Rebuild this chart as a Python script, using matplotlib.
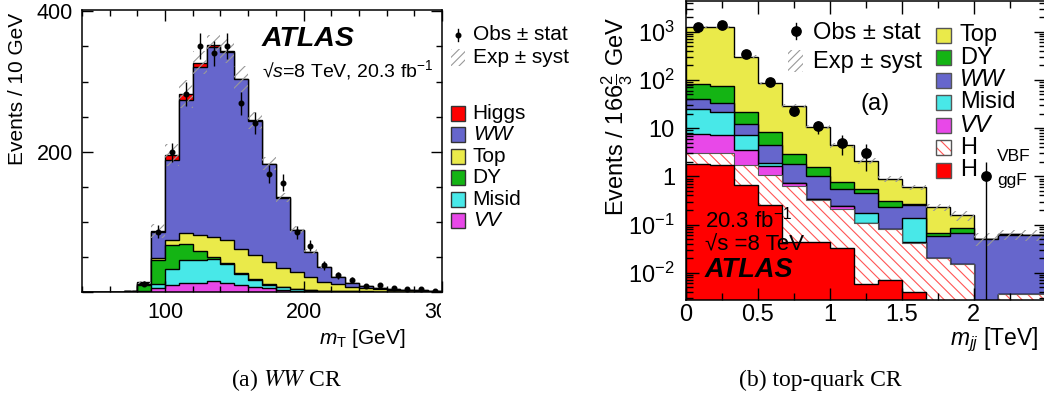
import numpy as np
import matplotlib
matplotlib.use("Agg")
import matplotlib.pyplot as plt
from matplotlib.patches import Rectangle
from matplotlib.lines import Line2D
from matplotlib.ticker import (MultipleLocator, FixedLocator, LogLocator,
                               FuncFormatter, NullFormatter)

plt.rcParams['font.family'] = ['Liberation Sans', 'DejaVu Sans']
plt.rcParams['mathtext.fontset'] = 'custom'
plt.rcParams['mathtext.rm'] = 'Liberation Sans'
plt.rcParams['mathtext.it'] = 'Liberation Sans:italic'
plt.rcParams['mathtext.bf'] = 'Liberation Sans:bold'
plt.rcParams['hatch.linewidth'] = 0.8

W, H = 1044, 397

C_HIGGS = '#ff0000'
C_WW = '#6666cc'
C_TOP = '#eaea4a'
C_DY = '#14b414'
C_MISID = '#48e8e8'
C_VV = '#e848e8'

# ---- (a) WW CR, mT in 10 GeV bins from 40 to 300 GeV
mt_edges = np.arange(40, 301, 10)
mt_vv = [0, 0, 0.1, 0.3, 0.5, 5.2, 10.5, 13.5, 13.5, 15, 13.5, 9.5, 6.5, 5, 3, 2,
         1.2, 0.8, 0.6, 0.4, 0.3, 0.2, 0.15, 0.1, 0.1, 0.05]
mt_misid = [0, 0, 0, 0.2, 0.7, 6.7, 22.5, 32.5, 32.5, 32.5, 26.5, 16, 10.5, 5.5, 3.5, 2,
            1.3, 0.8, 0.5, 0.4, 0.3, 0.2, 0.15, 0.1, 0.05, 0.05]
mt_dy = [0, 0, 0.1, 0.7, 8.8, 33.1, 33.5, 23, 13, 2.5, 1.5, 1.5, 1, 1, 1, 0.8,
         0.5, 0.4, 0.3, 0.2, 0.2, 0.2, 0.15, 0.1, 0.05, 0.05]
mt_top = [0, 0, 0.1, 0.4, 1, 3, 8, 15, 22, 29, 32.5, 35, 35, 31, 26.5, 23.2,
          18, 12.7, 9.6, 6.6, 4.7, 3.4, 2.55, 1.9, 1.3, 0.85]
mt_ww = [0, 0, 0.1, 0.4, 2.5, 38, 113.5, 190, 240, 270, 268, 241, 191, 139.9, 100.4, 60.4,
         36.5, 21.4, 11, 5.9, 3, 2, 1.4, 1, 0.8, 0.6]
mt_higgs = [0, 0, 0, 0, 0.3, 1, 7, 8, 6, 3, 1.5, 1, 0.8, 0.6, 0.4, 0.2,
            0.1, 0.1, 0, 0, 0, 0, 0, 0, 0, 0]
mt_obs = [0, 0, 0, 0, 12, 86, 199, 282, 351, 340, 351, 269, 241, 168, 156, 85,
          66, 38, 24, 17, 9, 10, 5, 4, 4, 2]
mt_syst = [0.1, 0.1, 0.1, 0.15, 0.15, 0.12, 0.08, 0.07, 0.05, 0.04, 0.05, 0.06, 0.05, 0.05,
           0.05, 0.06, 0.06, 0.06, 0.06, 0.06, 0.06, 0.06, 0.06, 0.06, 0.06, 0.06]

# ---- (b) top-quark CR, mjj in 1/6 TeV bins
mjj_edges = np.arange(16) / 6.0
mjj_ggf = [1.83, 1.74, 0.65, 0.26, 0.044, 0.044, 0.033, 0.0057, 0.007, 0.004,
           1e-4, 1e-4, 1e-4, 1e-4, 1e-4]
mjj_vbf = [1.21, 1.26, 1.09, 0.82, 0.576, 0.286, 0.177, 0.102, 0.072, 0.038,
           0.0199, 0.0148, 1e-4, 0.0035, 0.0035]
mjj_vv = [4.46, 4.3, 1.71, 0.53, 0.11, 0.01, 0.03, 0.001, 5e-4, 5e-4,
          1e-4, 1e-4, 1e-5, 1e-5, 1e-5]
mjj_misid = [17.2, 14.1, 3.85, 0.28, 0.01, 0.005, 0.003, 0.065, 5e-4, 0.0945,
             1e-4, 1e-4, 1e-5, 1e-5, 1e-5]
mjj_ww = [15.1, 11.5, 5.0, 2.49, 1.09, 0.685, 0.304, 0.276, 0.152, 0.113,
          0.0368, 0.0519, 0.0498, 0.0584, 0.0564]
mjj_dy = [42.8, 43.1, 9.8, 3.88, 1.11, 0.5, 0.203, 0.106, 0.082, 0.018,
          0.01, 0.017, 1e-4, 1e-4, 1e-4]
mjj_top = [1147, 1194, 281, 76.7, 26.1, 9.0, 3.65, 1.54, 0.576, 0.332,
           0.163, 0.071, 1e-4, 1e-4, 1e-4]
mjj_obs = [1270, 1370, 345, 92, 23, 11, 5, 3, 0, 0, 0, 0, 1, 0, 0]
mjj_syst = [0.05, 0.05, 0.06, 0.07, 0.08, 0.1, 0.12, 0.15, 0.15, 0.12,
            0.18, 0.22, 0.3, 0.25, 0.25]


def px(x, y):
    return x / W, 1 - y / H


def draw_stack(ax, edges, layers, base):
    cum = []
    total = np.zeros(len(edges) - 1)
    for vals, color, hatch in layers:
        total = total + np.asarray(vals, dtype=float)
        cum.append((total.copy(), color, hatch))
    for top, color, hatch in reversed(cum):
        if hatch:
            ax.stairs(top, edges, baseline=base, fill=True, facecolor='white',
                      edgecolor=color, hatch=hatch, lw=0)
            ax.stairs(top, edges, baseline=base, fill=False, color='#555555', lw=0.8)
        else:
            ax.stairs(top, edges, baseline=base, fill=True, facecolor=color,
                      edgecolor='black', lw=1)
    return total


def draw_data(ax, edges, obs, ms, log=False):
    n = np.asarray(obs, dtype=float)
    c = 0.5 * (edges[1:] + edges[:-1])
    m = n > 0
    err = np.sqrt(n[m])
    lo = np.minimum(err, n[m] - 1e-6) if log else err
    ax.errorbar(c[m], n[m], yerr=[lo, err], fmt='o', color='black', ms=ms,
                elinewidth=1, capsize=0, zorder=10)


fig = plt.figure(figsize=(W / 100, H / 100), dpi=100)

# ================= left panel
axL = fig.add_axes([82 / W, (H - 292) / H, 360 / W, 282 / H])
tot = draw_stack(axL, mt_edges, [(mt_vv, C_VV, None), (mt_misid, C_MISID, None),
                                 (mt_dy, C_DY, None), (mt_top, C_TOP, None),
                                 (mt_ww, C_WW, None), (mt_higgs, C_HIGGS, None)], 0)
s = np.asarray(mt_syst)
axL.stairs(tot * (1 + s), mt_edges, baseline=tot * (1 - s), fill=True, facecolor='none',
           edgecolor='#999999', hatch='///', lw=0)
draw_data(axL, mt_edges, mt_obs, 3.3)

axL.set_xlim(40, 300)
axL.set_ylim(0, 402)
axL.xaxis.set_major_locator(FixedLocator([100, 200, 300]))
axL.xaxis.set_minor_locator(MultipleLocator(20))
axL.yaxis.set_major_locator(FixedLocator([0, 200, 400]))
axL.yaxis.set_major_formatter(FuncFormatter(lambda v, p: '' if v == 0 else '%d' % v))
axL.yaxis.set_minor_locator(MultipleLocator(50))
axL.tick_params(which='both', direction='in', top=True, right=True, width=1, labelsize=15.5)
axL.tick_params(which='major', length=8)
axL.tick_params(which='minor', length=4.5)
axL.tick_params(axis='x', pad=7)
axL.tick_params(axis='y', pad=6.5)
for sp in axL.spines.values():
    sp.set_linewidth(1.1)

fig.text(*px(17.5, 13), 'Events / 10 GeV', rotation=90, ha='center', va='top', size=15)
fig.text(*px(405, 338), r'$m_{\mathrm{T}}$ [GeV]', ha='right', va='center', size=15)
fig.text(*px(261.7, 39), 'ATLAS', weight='bold', style='italic', ha='left', va='center', size=20.5)
fig.text(*px(261.7, 70), '√$s$=8 TeV, 20.3 fb$^{-1}$', ha='left', va='center', size=14)

# crop of the "300" label like the original subfigure
fig.add_artist(Rectangle(px(441, 330), 150 / W, 36 / H, transform=fig.transFigure,
                         facecolor='white', edgecolor='none', zorder=5))

# left legend
fig.add_artist(Line2D([458.3 / W] * 2, [1 - 29 / H, 1 - 41 / H], transform=fig.transFigure,
                      color='black', lw=1))
fig.add_artist(Line2D([458.3 / W], [1 - 35 / H], transform=fig.transFigure, color='black',
                      marker='o', ms=3.3, lw=0))
fig.add_artist(Rectangle(px(451, 66), 14 / W, 17 / H, transform=fig.transFigure,
                         facecolor='none', edgecolor='#999999', hatch='////', lw=0))
fig.text(*px(472.7, 35), 'Obs ± stat', ha='left', va='center', size=15)
fig.text(*px(472.7, 57.3), 'Exp ± syst', ha='left', va='center', size=15)
left_leg = [('Higgs', C_HIGGS, 'normal'), ('WW', C_WW, 'italic'), ('Top', C_TOP, 'normal'),
            ('DY', C_DY, 'normal'), ('Misid', C_MISID, 'normal'), ('VV', C_VV, 'italic')]
for i, (lab, col, st) in enumerate(left_leg):
    yc = 113.3 + i * 21.5
    fig.add_artist(Rectangle(px(451, yc + 7.5), 14 / W, 15 / H, transform=fig.transFigure,
                             facecolor=col, edgecolor='#333333', lw=1))
    fig.text(*px(472.7, yc), lab, ha='left', va='center', size=15, style=st)

# ================= right panel
axR = fig.add_axes([686 / W, (H - 300) / H, 359.5 / W, 299 / H])
axR.set_yscale('log')
base = 1e-6
tot = draw_stack(axR, mjj_edges, [(mjj_ggf, C_HIGGS, None), (mjj_vbf, '#ff5555', '\\\\\\'),
                                  (mjj_vv, C_VV, None), (mjj_misid, C_MISID, None),
                                  (mjj_ww, C_WW, None), (mjj_dy, C_DY, None),
                                  (mjj_top, C_TOP, None)], base)
s = np.asarray(mjj_syst)
axR.stairs(tot * (1 + s), mjj_edges, baseline=tot * (1 - s), fill=True, facecolor='none',
           edgecolor='#999999', hatch='///', lw=0)
draw_data(axR, mjj_edges, mjj_obs, 6.7, log=True)

axR.set_xlim(0, 2.5)
axR.set_ylim(10 ** -2.566, 10 ** 3.637)
axR.xaxis.set_major_locator(FixedLocator([0, 0.5, 1, 1.5, 2]))
axR.xaxis.set_minor_locator(MultipleLocator(0.25))
axR.xaxis.set_major_formatter(FuncFormatter(lambda v, p: '%g' % v))
axR.yaxis.set_major_locator(LogLocator(10, numticks=20))
axR.yaxis.set_minor_locator(LogLocator(10, subs=np.arange(2, 10), numticks=20))
axR.yaxis.set_minor_formatter(NullFormatter())
ylab = {3: r'$10^{3}$', 2: r'$10^{2}$', 1: '10', 0: '1', -1: r'$10^{-1}$', -2: r'$10^{-2}$'}
axR.yaxis.set_major_formatter(FuncFormatter(lambda v, p: ylab.get(int(round(np.log10(v))), '')))
axR.tick_params(which='both', direction='in', top=True, right=True, width=1, labelsize=17)
axR.tick_params(which='major', length=9)
axR.tick_params(which='minor', length=5)
axR.tick_params(axis='x', pad=3)
axR.tick_params(axis='y', pad=8)
for sp in axR.spines.values():
    sp.set_linewidth(1.1)

fig.text(*px(617, 17), r'Events / 166$\frac{2}{3}$ GeV', rotation=90, ha='center', va='top', size=17)
fig.text(*px(1038, 340), r'$m_{jj}$ [TeV]', ha='right', va='center', size=16.5)

fig.text(*px(705, 220), '20.3 fb$^{-1}$', ha='left', va='center', size=16)
fig.text(*px(705, 245), '√s =8 TeV', ha='left', va='center', size=16)
fig.text(*px(705, 270), 'ATLAS', weight='bold', style='italic', ha='left', va='center', size=19.5)
fig.text(*px(875, 104.3), '(a)', ha='center', va='center', size=17)

# right legend
fig.add_artist(Line2D([796 / W] * 2, [1 - 23.3 / H, 1 - 39.3 / H], transform=fig.transFigure,
                      color='black', lw=1))
fig.add_artist(Line2D([796 / W], [1 - 30.7 / H], transform=fig.transFigure, color='black',
                      marker='o', ms=6.7, lw=0))
fig.add_artist(Rectangle(px(788, 71.7), 15 / W, 21.7 / H, transform=fig.transFigure,
                         facecolor='none', edgecolor='#999999', hatch='////', lw=0))
fig.text(*px(813.3, 33.3), 'Obs ± stat', ha='left', va='center', size=17)
fig.text(*px(813.3, 61.7), 'Exp ± syst', ha='left', va='center', size=17)
right_leg = [('Top', C_TOP, 'normal', None), ('DY', C_DY, 'normal', None),
             ('WW', C_WW, 'italic', None), ('Misid', C_MISID, 'normal', None),
             ('VV', C_VV, 'italic', None), ('H', 'white', 'normal', '\\\\\\'),
             ('H', C_HIGGS, 'normal', None)]
for i, (lab, col, st, hatch) in enumerate(right_leg):
    yc = 35 + i * 22.5
    if hatch:
        fig.add_artist(Rectangle(px(935.7, yc + 7.5), 15.3 / W, 15 / H, transform=fig.transFigure,
                                 facecolor='white', edgecolor='#ff5555', hatch=hatch, lw=0))
        fig.add_artist(Rectangle(px(935.7, yc + 7.5), 15.3 / W, 15 / H, transform=fig.transFigure,
                                 facecolor='none', edgecolor='#555555', lw=1))
    else:
        fig.add_artist(Rectangle(px(935.7, yc + 7.5), 15.3 / W, 15 / H, transform=fig.transFigure,
                                 facecolor=col, edgecolor='#555555', lw=1))
    fig.text(*px(960, yc), lab, ha='left', va='center', size=17, style=st)
fig.text(*px(997.3, 156.7), 'VBF', ha='left', va='center', size=12.5)
fig.text(*px(997.3, 180), 'ggF', ha='left', va='center', size=12.5)

# captions
fig.text(*px(286, 380), r'(a) $\mathit{WW}$ CR', ha='center', va='center', size=17,
         family='Liberation Serif', math_fontfamily='stix')
fig.text(*px(820, 380), '(b) top-quark CR', ha='center', va='center', size=17,
         family='Liberation Serif')

fig.savefig('out.png', dpi=100)
